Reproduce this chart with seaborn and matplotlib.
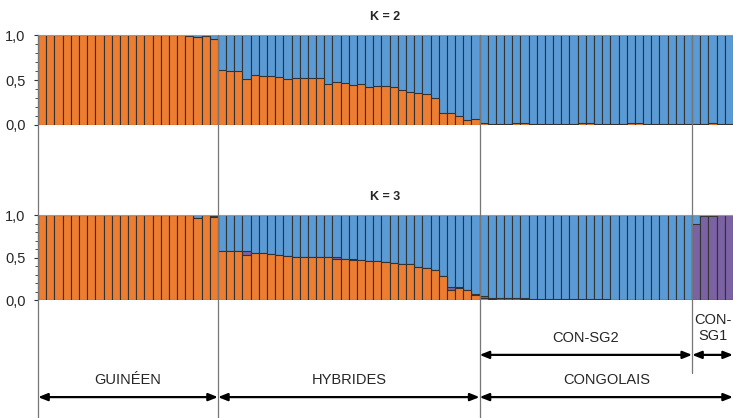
import numpy as np
import pandas as pd
import matplotlib.pyplot as plt
import matplotlib.transforms as mtransforms
from matplotlib.lines import Line2D
import seaborn as sns

# group sizes (number of individuals)
groups = ["GUINÉEN", "HYBRIDES", "CON-SG2", "CON-SG1"]
group_sizes = [22, 32, 26, 5]

# K = 2 : orange cluster share (blue = rest)
k2_orange_gui = [1.0] * 18 + [0.99, 0.98, 0.99, 0.96]
k2_orange_hyb = [0.61, 0.60, 0.60, 0.51, 0.56, 0.55, 0.55, 0.53, 0.51, 0.52, 0.52,
                 0.52, 0.52, 0.46, 0.48, 0.47, 0.44, 0.46, 0.42, 0.43, 0.43, 0.42,
                 0.39, 0.37, 0.36, 0.34, 0.30, 0.13, 0.13, 0.10, 0.06, 0.07]
k2_orange_con = [0.02, 0.01, 0.01, 0.01, 0.02, 0.02, 0.01, 0.01, 0.01, 0.01, 0.01,
                 0.01, 0.02, 0.02, 0.01, 0.01, 0.01, 0.01, 0.02, 0.02, 0.01, 0.01,
                 0.01, 0.01, 0.01, 0.01, 0.01, 0.01, 0.02, 0.01, 0.01]

# K = 3 : orange and purple shares (blue = rest)
k3_orange_gui = [1.0] * 19 + [0.97, 1.0, 0.98]
k3_purple_gui = [0.0] * 19 + [0.0, 0.0, 0.01]
k3_orange_hyb = [0.58, 0.58, 0.58, 0.53, 0.55, 0.55, 0.54, 0.53, 0.52, 0.51, 0.51,
                 0.51, 0.51, 0.51, 0.49, 0.48, 0.47, 0.47, 0.46, 0.46, 0.45, 0.44,
                 0.43, 0.42, 0.39, 0.38, 0.35, 0.29, 0.12, 0.14, 0.12, 0.06]
k3_purple_hyb = [0.0, 0.0, 0.0, 0.05, 0.0, 0.0, 0.0, 0.0, 0.0, 0.0, 0.0,
                 0.0, 0.0, 0.0, 0.02, 0.0, 0.02, 0.0, 0.0, 0.0, 0.0, 0.0,
                 0.0, 0.0, 0.0, 0.0, 0.0, 0.0, 0.04, 0.01, 0.0, 0.01]
k3_orange_con = [0.03, 0.01, 0.0, 0.0, 0.0, 0.01, 0.0, 0.0, 0.0, 0.0, 0.0,
                 0.0, 0.0, 0.0, 0.0, 0.0, 0.0, 0.0, 0.0, 0.0, 0.0, 0.0,
                 0.0, 0.0, 0.0, 0.0, 0.0, 0.0, 0.0, 0.0, 0.0]
k3_purple_con = [0.02, 0.02, 0.02, 0.02, 0.02, 0.01, 0.01, 0.01, 0.01, 0.01, 0.01,
                 0.01, 0.01, 0.01, 0.01, 0.01, 0.0, 0.0, 0.0, 0.0, 0.0, 0.0,
                 0.0, 0.0, 0.0, 0.0, 0.90, 0.99, 0.99, 1.0, 1.0]

ORANGE = "#ED7D31"
BLUE = "#5B9BD5"
PURPLE = "#7B62A3"
EDGE = "#333333"

n = sum(group_sizes)
k2_orange = np.array(k2_orange_gui + k2_orange_hyb + k2_orange_con)
k3_orange = np.array(k3_orange_gui + k3_orange_hyb + k3_orange_con)
k3_purple = np.array(k3_purple_gui + k3_purple_hyb + k3_purple_con)

df2 = pd.DataFrame({"ind": np.arange(n), "orange": k2_orange, "blue": 1 - k2_orange})
df3 = pd.DataFrame({"ind": np.arange(n), "orange": k3_orange, "purple": k3_purple,
                    "blue": 1 - k3_orange - k3_purple})

sns.set_style("white")
plt.rcParams["font.family"] = ["Liberation Sans", "DejaVu Sans"]

fig = plt.figure(figsize=(7.33, 4.18), dpi=100)
ax1 = fig.add_axes([0.052, 0.701, 0.948, 0.215])
ax2 = fig.add_axes([0.052, 0.282, 0.948, 0.203])

bar_kw = dict(width=1.0, edgecolor=EDGE, linewidth=0.8, saturation=1, native_scale=True)

# stacked bars: draw cumulative heights back to front
sns.barplot(x=df2["ind"], y=df2["orange"] + df2["blue"], color=BLUE, ax=ax1, **bar_kw)
sns.barplot(x=df2["ind"], y=df2["orange"], color=ORANGE, ax=ax1, **bar_kw)

sns.barplot(x=df3["ind"], y=df3["orange"] + df3["purple"] + df3["blue"], color=BLUE, ax=ax2, **bar_kw)
sns.barplot(x=df3["ind"], y=df3["orange"] + df3["purple"], color=PURPLE, ax=ax2, **bar_kw)
sns.barplot(x=df3["ind"], y=df3["orange"], color=ORANGE, ax=ax2, **bar_kw)

for ax, title in [(ax1, "K = 2"), (ax2, "K = 3")]:
    ax.set_xlim(-0.5, n - 0.5)
    ax.set_ylim(0, 1.0)
    ax.set_xlabel("")
    ax.set_ylabel("")
    ax.set_xticks([])
    ax.set_yticks([0, 0.5, 1.0])
    ax.set_yticklabels(["0,0", "0,5", "1,0"], fontsize=10.5)
    ax.set_yticks(np.arange(0, 1.01, 0.1), minor=True)
    ax.tick_params(axis="y", which="major", direction="out", length=3, width=0.8, color="#333333", pad=6, left=True)
    ax.tick_params(axis="y", which="minor", direction="out", length=2, width=0.6, color="#333333", left=True)
    for s in ["right", "bottom"]:
        ax.spines[s].set_visible(False)
    ax.spines["top"].set_color("#999999")
    ax.spines["top"].set_linewidth(0.8)
    ax.spines["left"].set_color("#555555")
    ax.spines["left"].set_linewidth(0.8)
    ax.set_title(title, fontsize=9, fontweight="bold", pad=11)

# group boundaries, lines and arrows
edges = np.concatenate([[0], np.cumsum(group_sizes)]) - 0.5
trans = mtransforms.blended_transform_factory(ax2.transData, fig.transFigure)
top = 0.916
for i, x in enumerate(edges[:-1]):
    y_end = 0.108 if i == 3 else 0.0
    fig.add_artist(Line2D([x, x], [top, y_end], transform=trans, color="#777777", lw=0.9, zorder=5))

arrow = dict(arrowstyle="<|-|>,head_length=0.55,head_width=0.22", color="black", lw=1.6,
             shrinkA=0, shrinkB=0)

def span_arrow(x0, x1, y, label, ly):
    ax2.annotate("", xy=(x0, y), xytext=(x1, y), xycoords=("data", "figure fraction"),
                 textcoords=("data", "figure fraction"), arrowprops=arrow, annotation_clip=False)
    ax2.text((x0 + x1) / 2, ly, label, transform=trans, ha="center", va="center", fontsize=10.5)

# main groups
span_arrow(edges[0], edges[1], 0.050, "GUINÉEN", 0.092)
span_arrow(edges[1], edges[2], 0.050, "HYBRIDES", 0.092)
span_arrow(edges[2], edges[4], 0.050, "CONGOLAIS", 0.092)
# congolese subgroups
span_arrow(edges[2], edges[3], 0.151, "CON-SG2", 0.192)
span_arrow(edges[3], edges[4], 0.151, "CON-\nSG1", 0.215)

fig.savefig("out.png", dpi=100)
